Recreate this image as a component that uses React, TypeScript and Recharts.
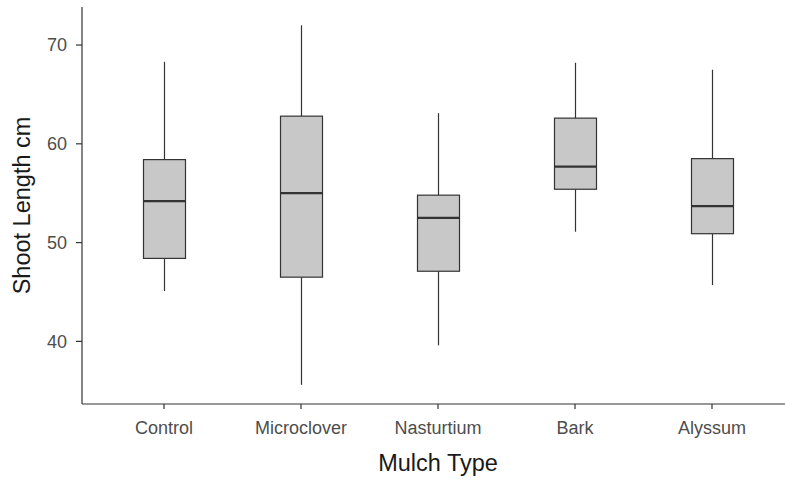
import { ComposedChart, Bar, XAxis, YAxis } from 'recharts';

// box plot summary per mulch type
const categories = ['Control', 'Microclover', 'Nasturtium', 'Bark', 'Alyssum'];
const whiskerLow = [45.1, 35.6, 39.6, 51.1, 45.7];
const lowerQuartile = [48.4, 46.5, 47.1, 55.4, 50.9];
const medians = [54.2, 55.0, 52.5, 57.7, 53.7];
const upperQuartile = [58.4, 62.8, 54.8, 62.6, 58.5];
const whiskerHigh = [68.3, 72.0, 63.1, 68.2, 67.5];
const yTicks = [40, 50, 60, 70];

const data = categories.map((name, i) => ({
  name,
  range: [whiskerLow[i], whiskerHigh[i]],
  low: whiskerLow[i],
  q1: lowerQuartile[i],
  median: medians[i],
  q3: upperQuartile[i],
  high: whiskerHigh[i],
}));

const INK = '#333333';

// the bar spans low..high whisker; the rest is placed on the same linear scale
function BoxShape(props: any) {
  const { x, y, width, height, payload } = props;
  const top = Math.min(y, y + height);
  const bottom = Math.max(y, y + height);
  const toY = (v: number) => top + ((payload.high - v) / (payload.high - payload.low)) * (bottom - top);
  const cx = x + width / 2;
  const yQ3 = toY(payload.q3);
  const yQ1 = toY(payload.q1);
  const yMed = toY(payload.median);
  return (
    <g>
      <line x1={cx} x2={cx} y1={top} y2={yQ3} stroke={INK} strokeWidth={1.2} />
      <line x1={cx} x2={cx} y1={yQ1} y2={bottom} stroke={INK} strokeWidth={1.2} />
      <rect x={x} y={yQ3} width={width} height={yQ1 - yQ3} fill="#c8c8c8" stroke={INK} strokeWidth={1.2} />
      <line x1={x} x2={x + width} y1={yMed} y2={yMed} stroke={INK} strokeWidth={2.3} />
    </g>
  );
}

export default function App() {
  return (
    <div style={{ width: 785, height: 482, overflow: 'hidden', fontFamily: "'Liberation Sans', Arial, sans-serif" }}>
      <style>{'body{margin:0}'}</style>
      <ComposedChart width={794} height={482} data={data} margin={{ top: 7, right: 0, bottom: 0, left: 0 }}>
        <XAxis
          dataKey="name"
          type="category"
          height={78}
          padding={{ left: 13.5, right: 13.5 }}
          stroke={INK}
          strokeWidth={1.2}
          tickLine={{ stroke: INK }}
          tickSize={5}
          tickMargin={12}
          tick={{ fill: '#4d4d4d', fontSize: 18 }}
          label={{ value: 'Mulch Type', position: 'insideBottom', offset: 11, fill: '#1a1a1a', fontSize: 23.5 }}
        />
        <YAxis
          type="number"
          width={82}
          domain={[33.66, 73.85]}
          allowDataOverflow
          ticks={yTicks}
          stroke={INK}
          strokeWidth={1.2}
          tickLine={{ stroke: INK }}
          tickSize={6}
          tickMargin={9}
          tick={{ fill: '#4d4d4d', fontSize: 18 }}
          label={{
            value: 'Shoot Length cm',
            angle: -90,
            position: 'insideLeft',
            offset: 22,
            fill: '#1a1a1a',
            fontSize: 23.5,
            style: { textAnchor: 'middle' },
          }}
        />
        <Bar dataKey="range" barSize={42} shape={(p: any) => <BoxShape {...p} />} isAnimationActive={false} />
      </ComposedChart>
    </div>
  );
}
